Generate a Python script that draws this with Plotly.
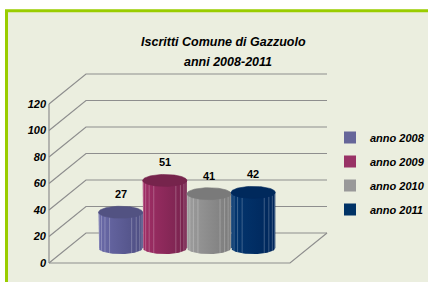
import numpy as np
import plotly.graph_objects as go

# ---------------- data ----------------
series_names = ["anno 2008", "anno 2009", "anno 2010", "anno 2011"]
values = [27, 51, 41, 42]
tick_values = [0, 20, 40, 60, 80, 100, 120]
tick_labels = ["0", "20", "40", "60", "80", "100", "120"]
title_line1 = "Iscritti Comune di Gazzuolo"
title_line2 = "anni 2008-2011"

# ---------------- style ----------------
legend_colors = ["#666699", "#993366", "#999999", "#003366"]
body_light = ["#6A6AA8", "#A02E66", "#9C9C9C", "#03366F"]
body_dark = ["#4E4E82", "#76234D", "#7B7B7B", "#00265A"]
top_colors = ["#525282", "#76244C", "#7A7A7A", "#00295C"]
FONT = "Liberation Sans, Arial, sans-serif"
W, H = 428, 282

# 3D geometry (screen-like axis units)
X_RANGE = [-2.7285, 6.955]        # 1 unit = one cylinder width
Y_RANGE = [-14.34, 198.5]
WALL_X0, WALL_X1 = -1.62, 3.833   # front floor edge
DEPTH_X, DEPTH_Y = 0.837, 22.64   # back-wall offset
BASE = 11.3                       # cylinders stand mid-depth
RY = 4.53                         # ellipse half-height (value units)
HALF_W = 0.5
GRID_COLOR = "#8E8E8E"

fig = go.Figure()

# legend carriers (bars hidden under cylinder bodies)
for i, (name, v) in enumerate(zip(series_names, values)):
    fig.add_trace(go.Bar(
        x=[i], y=[v], base=BASE, width=2 * HALF_W, name=name,
        marker=dict(color=legend_colors[i], line=dict(width=0)),
        legendgroup=name, hoverinfo="skip"))

# walls / grid
gx, gy = [], []
for t in tick_values:
    gx += [WALL_X0, WALL_X0 + DEPTH_X, WALL_X1 + DEPTH_X, None]
    gy += [t, t + DEPTH_Y, t + DEPTH_Y, None]
gx += [WALL_X0, WALL_X0, None, WALL_X0, WALL_X1, WALL_X1 + DEPTH_X, None]
gy += [tick_values[-1], tick_values[0], None, 0, 0, DEPTH_Y, None]
fig.add_trace(go.Scatter(x=gx, y=gy, mode="lines", showlegend=False,
                         line=dict(color=GRID_COLOR, width=1.2), hoverinfo="skip"))

# cylinders
t_low = np.linspace(np.pi, 2 * np.pi, 40)
t_all = np.linspace(0, 2 * np.pi, 80)
facet_angles = np.pi + np.pi * np.array([1, 2, 3, 4, 8, 9, 10, 11]) / 12
for i, v in enumerate(values):
    top = BASE + v
    bx = [i - HALF_W, i - HALF_W] + list(i + HALF_W * np.cos(t_low)) + [i + HALF_W, i - HALF_W]
    by = [top, BASE] + list(BASE + RY * np.sin(t_low)) + [top, top]
    fig.add_trace(go.Scatter(
        x=bx, y=by, mode="lines", fill="toself", line=dict(width=0),
        fillgradient=dict(type="horizontal",
                          colorscale=[[0, body_light[i]], [1, body_dark[i]]]),
        showlegend=False, hoverinfo="skip"))
    fx, fy = [], []
    for a in facet_angles:
        xx = i + HALF_W * np.cos(a)
        fx += [xx, xx, None]
        fy += [top + RY * np.sin(a), BASE + RY * np.sin(a), None]
    fig.add_trace(go.Scatter(x=fx, y=fy, mode="lines", showlegend=False,
                             line=dict(color="rgba(255,255,255,0.30)", width=0.8),
                             hoverinfo="skip"))
    fig.add_trace(go.Scatter(
        x=list(i + HALF_W * np.cos(t_all)), y=list(top + RY * np.sin(t_all)),
        mode="lines", fill="toself", fillcolor=top_colors[i],
        line=dict(width=0.6, color=top_colors[i]), showlegend=False, hoverinfo="skip"))
    fig.add_annotation(x=i, y=top, text=str(v), showarrow=False, yshift=18,
                       font=dict(family=FONT, size=11, color="#000000", weight="bold"))

# titles
fig.add_annotation(x=224 / W, y=1 - 42 / H, xref="paper", yref="paper",
                   text=title_line1, showarrow=False, xanchor="center", yanchor="middle",
                   font=dict(family=FONT, size=12.5, color="#000", weight="bold", style="italic"))
fig.add_annotation(x=228 / W, y=1 - 62 / H, xref="paper", yref="paper",
                   text=title_line2, showarrow=False, xanchor="center", yanchor="middle",
                   font=dict(family=FONT, size=12.5, color="#000", weight="bold", style="italic"))

# chart area background & border
fig.add_shape(type="rect", xref="paper", yref="paper", layer="below",
              x0=6.5 / W, x1=1.05, y0=-0.05, y1=1 - 10.8 / H,
              fillcolor="#EBEEDF", line=dict(color="#9ACD00", width=3))

fig.update_layout(
    width=W, height=H, autosize=False,
    margin=dict(l=0, r=0, t=0, b=0, autoexpand=False),
    paper_bgcolor="#FFFFFF", plot_bgcolor="rgba(0,0,0,0)",
    barmode="overlay", bargap=0,
    xaxis=dict(range=X_RANGE, visible=False, fixedrange=True),
    yaxis=dict(range=Y_RANGE, anchor="free", position=49 / W, tickvals=tick_values,
               ticktext=tick_labels, ticks="", showgrid=False, zeroline=False,
               showline=False, ticklabelstandoff=3, fixedrange=True,
               tickfont=dict(family=FONT, size=11, color="#000", weight="bold", style="italic")),
    legend=dict(x=330 / W, y=1 - 123 / H, xanchor="left", yanchor="top",
                bgcolor="rgba(0,0,0,0)", tracegroupgap=5,
                font=dict(family=FONT, size=11, color="#000", weight="bold", style="italic")),
    showlegend=True,
)

fig.write_html("out.html", config={"displayModeBar": False},
               post_script="document.body.style.margin='0';")
